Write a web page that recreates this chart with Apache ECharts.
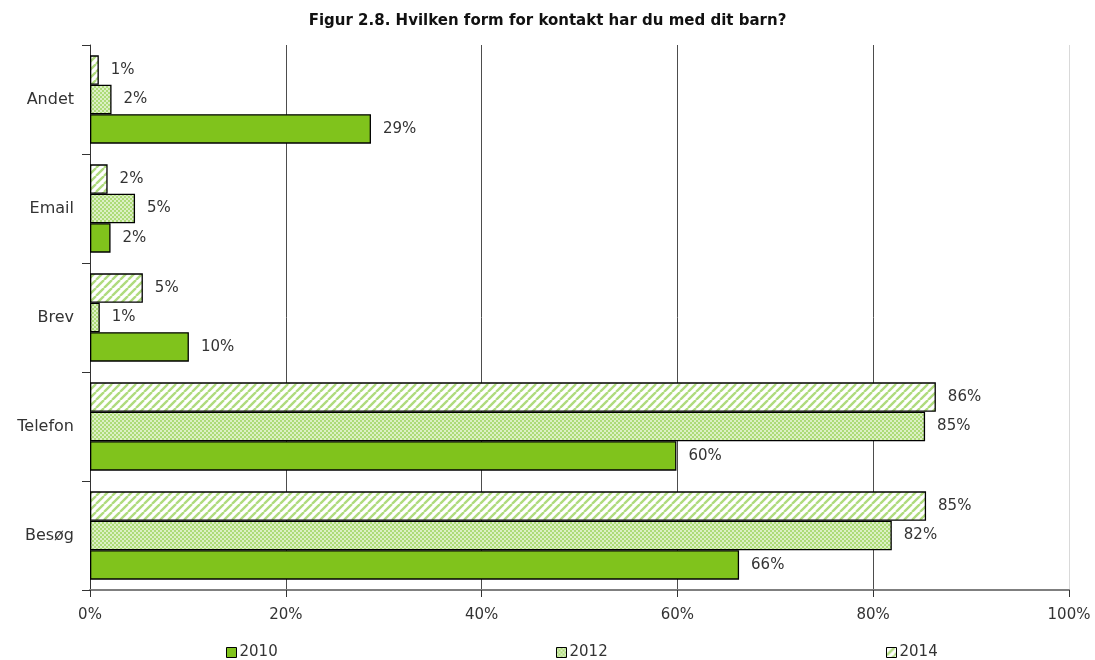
<!DOCTYPE html>
<html>
<head>
<meta charset="utf-8">
<script src="https://cdn.jsdelivr.net/npm/echarts@6/dist/echarts.min.js"></script>
<style>
  html, body { margin: 0; padding: 0; background: #ffffff; }
  #chart { width: 1095px; height: 660px; }
</style>
</head>
<body>
<div id="chart"></div>
<script>
// Categories listed bottom-to-top along the vertical axis
const categories = ['Besøg', 'Telefon', 'Brev', 'Email', 'Andet'];
const years = ['2010', '2012', '2014'];
// Share of respondents (%) per contact form
const values2010 = [66.3, 59.9, 10.1, 2.1, 28.7];
const values2012 = [81.9, 85.3, 1.0, 4.6, 2.2];
const values2014 = [85.4, 86.4, 5.4, 1.8, 0.9];
const xTicks = [0, 20, 40, 60, 80, 100];

const FONT = 'DejaVu Sans';

// Checker pattern for 2012
function checkerPattern() {
  const c = document.createElement('canvas');
  c.width = 4; c.height = 4;
  const g = c.getContext('2d');
  g.fillStyle = '#dcf0c4'; g.fillRect(0, 0, 4, 4);
  g.fillStyle = '#addb78';
  g.fillRect(0, 0, 2, 2);
  g.fillRect(2, 2, 2, 2);
  return { image: c, repeat: 'repeat' };
}

// Diagonal stripe pattern for 2014
function stripePattern() {
  const n = 8;
  const c = document.createElement('canvas');
  c.width = n; c.height = n;
  const g = c.getContext('2d');
  g.fillStyle = '#ffffff'; g.fillRect(0, 0, n, n);
  g.strokeStyle = '#afdb7e';
  g.lineWidth = 2.4;
  g.beginPath();
  for (let k = -1; k <= 1; k++) {
    g.moveTo(k * n, n);
    g.lineTo(k * n + n, 0);
  }
  g.stroke();
  return { image: c, repeat: 'repeat' };
}

const fills = { '2010': '#80c31c', '2012': checkerPattern(), '2014': stripePattern() };
const valuesByYear = { '2010': values2010, '2012': values2012, '2014': values2014 };

const chart = echarts.init(document.getElementById('chart'), null, { renderer: 'canvas' });

// Within each category the latest year sits on top, so series run newest first
const series = years.slice().reverse().map(y => ({
  name: y,
  type: 'bar',
  data: valuesByYear[y],
  barGap: '0%',
  barCategoryGap: '19%',
  itemStyle: { color: fills[y], borderColor: '#000000', borderWidth: 1.3 },
  label: {
    show: true,
    position: 'right',
    distance: 12,
    fontFamily: FONT,
    fontSize: 15,
    color: '#333333',
    formatter: p => Math.round(p.value) + '%'
  }
}));

const legendLefts = [221, 551, 881];

chart.setOption({
  animation: false,
  backgroundColor: '#ffffff',
  title: {
    text: 'Figur 2.8. Hvilken form for kontakt har du med dit barn?',
    left: 'center',
    top: 9,
    textStyle: { fontFamily: FONT, fontSize: 15, fontWeight: 'bold', color: '#111111' }
  },
  legend: years.map((y, i) => ({
    data: [y],
    left: legendLefts[i],
    top: 640,
    itemWidth: 10,
    itemHeight: 10,
    itemGap: 4,
    icon: 'rect',
    itemStyle: { borderColor: '#000000', borderWidth: 1 },
    textStyle: { fontFamily: FONT, fontSize: 15, color: '#333333', padding: [0, 0, 0, -2] }
  })),
  grid: { left: 90, right: 26, top: 45, bottom: 70, containLabel: false },
  xAxis: {
    type: 'value',
    min: xTicks[0],
    max: xTicks[xTicks.length - 1],
    interval: 20,
    axisLine: { show: true, lineStyle: { color: '#7f7f7f', width: 2 } },
    axisTick: { show: true, length: 7, lineStyle: { color: '#333333' } },
    axisLabel: {
      formatter: v => v + '%',
      fontFamily: FONT, fontSize: 15, color: '#333333', margin: 18
    },
    splitLine: {
      show: true,
      lineStyle: { color: ['#333333', '#4d4d4d', '#4d4d4d', '#4d4d4d', '#4d4d4d', '#d9d9d9'], width: 1 }
    }
  },
  yAxis: {
    type: 'category',
    data: categories,
    axisLine: { show: true, lineStyle: { color: '#333333', width: 1 } },
    axisTick: { show: true, length: 8, lineStyle: { color: '#333333' } },
    axisLabel: { fontFamily: FONT, fontSize: 16, color: '#333333', margin: 16 }
  },
  series: series
});
</script>
</body>
</html>
